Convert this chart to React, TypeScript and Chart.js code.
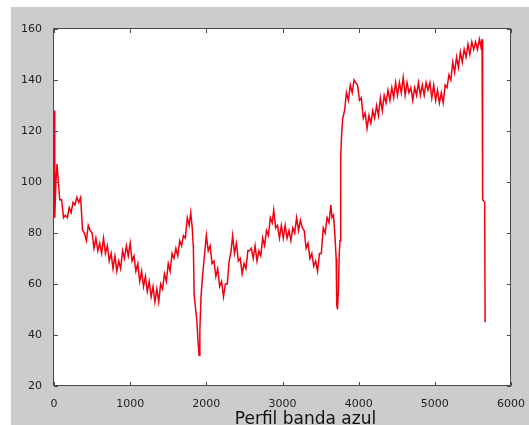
import React, { useEffect, useRef } from 'react';
import { Chart, registerables } from 'chart.js';

Chart.register(...registerables);

// Sample position along the profile (pixels along the line)
const PROFILE_X = [
  0, 10, 25, 40, 55, 75, 100, 125, 150, 175, 200, 225, 250, 275, 300, 325, 350, 375, 400, 425,
  450, 475, 500, 525, 550, 575, 600, 625, 650, 675, 700, 725, 750, 775, 800, 825, 850, 875, 900, 925,
  950, 975, 1000, 1025, 1050, 1075, 1100, 1125, 1150, 1175, 1200, 1225, 1250, 1275, 1300, 1325, 1350, 1375, 1400, 1425,
  1450, 1475, 1500, 1525, 1550, 1575, 1600, 1625, 1650, 1675, 1700, 1725, 1750, 1775, 1795, 1815, 1830, 1840, 1860, 1875,
  1890, 1905, 1915, 1930, 1950, 1975, 2000, 2025, 2050, 2075, 2100, 2125, 2150, 2175, 2200, 2225, 2250, 2275, 2300, 2325,
  2345, 2370, 2395, 2420, 2445, 2470, 2495, 2520, 2545, 2565, 2590, 2615, 2640, 2665, 2690, 2715, 2740, 2765, 2790, 2815,
  2840, 2865, 2885, 2910, 2935, 2960, 2985, 3010, 3035, 3060, 3085, 3110, 3135, 3160, 3185, 3210, 3235, 3260, 3285, 3310,
  3335, 3360, 3385, 3410, 3435, 3460, 3485, 3510, 3535, 3560, 3585, 3610, 3635, 3650, 3670, 3690, 3705, 3712, 3722, 3735,
  3745, 3755, 3765, 3775, 3790, 3815, 3840, 3865, 3890, 3915, 3940, 3960, 3985, 4010, 4035, 4060, 4085, 4110, 4135, 4160,
  4185, 4210, 4235, 4260, 4285, 4310, 4335, 4360, 4385, 4410, 4435, 4460, 4485, 4510, 4535, 4560, 4585, 4610, 4635, 4660,
  4685, 4710, 4735, 4760, 4785, 4810, 4835, 4860, 4885, 4910, 4935, 4960, 4985, 5010, 5035, 5060, 5085, 5110, 5135, 5160,
  5185, 5210, 5235, 5260, 5285, 5310, 5335, 5360, 5385, 5410, 5435, 5460, 5485, 5510, 5535, 5560, 5585, 5605, 5620, 5628,
  5655, 5660,
];

// Blue-band intensity
const PROFILE_Y = [
  128, 86, 100, 107, 101, 93, 93, 86, 87, 86, 90, 88, 92, 91, 94, 92, 94, 81, 80, 77,
  83, 81, 80, 74, 78, 73, 76, 72, 78, 72, 75, 69, 72, 66, 71, 65, 69, 66, 73, 70,
  75, 71, 76, 69, 71, 65, 68, 61, 65, 59, 63, 57, 61, 55, 59, 53, 58, 53, 60, 58,
  64, 61, 68, 65, 72, 70, 74, 71, 77, 75, 79, 78, 86, 83, 88, 82, 74, 56, 50, 46,
  38, 32, 42, 55, 63, 71, 79, 73, 75, 68, 69, 63, 66, 59, 61, 55, 60, 60, 69, 73,
  79, 72, 76, 69, 70, 64, 68, 66, 73, 73, 74, 70, 75, 69, 73, 71, 78, 75, 81, 79,
  86, 84, 89, 82, 83, 78, 83, 78, 83, 78, 81, 77, 82, 80, 86, 81, 85, 82, 81, 74,
  76, 70, 72, 67, 69, 65, 72, 72, 82, 80, 86, 84, 91, 86, 87, 78, 70, 52, 50, 58,
  72, 77, 110, 118, 125, 128, 135, 132, 138, 135, 140, 139, 138, 132, 133, 125, 127, 121, 126, 123,
  128, 125, 130, 126, 133, 128, 134, 131, 136, 132, 137, 133, 139, 134, 139, 135, 141, 134, 139, 135,
  137, 132, 137, 134, 139, 134, 138, 134, 139, 136, 139, 133, 138, 132, 136, 131, 135, 131, 138, 137,
  142, 140, 147, 143, 149, 145, 151, 147, 152, 149, 154, 150, 155, 152, 155, 152, 156, 153, 156, 93,
  92, 45,
];

const X_MIN = 0;
const X_MAX = 6000;
const X_STEP = 1000;
const Y_MIN = 20;
const Y_MAX = 160;
const Y_STEP = 20;
const X_LABEL = 'Perfil banda azul';

const matlabAxes = {
  id: 'matlabAxes',
  beforeDatasetsDraw(chart: any) {
    const { ctx, chartArea } = chart;
    const { left, right, top, bottom } = chartArea;
    ctx.save();
    ctx.fillStyle = '#ffffff';
    ctx.fillRect(left, top, right - left, bottom - top);
    ctx.restore();
  },
  afterDatasetsDraw(chart: any) {
    const { ctx, chartArea } = chart;
    const { left, right, top, bottom } = chartArea;
    const xs = chart.scales.x;
    const ys = chart.scales.y;
    ctx.save();
    ctx.strokeStyle = '#4a4a4a';
    ctx.lineWidth = 1;
    ctx.beginPath();
    ctx.rect(Math.round(left) - 0.5, Math.round(top) - 0.5, Math.round(right - left), Math.round(bottom - top));
    ctx.stroke();
    const len = 4;
    ctx.beginPath();
    xs.ticks.forEach((t: any) => {
      const px = Math.round(xs.getPixelForValue(t.value)) + 0.5;
      ctx.moveTo(px, bottom);
      ctx.lineTo(px, bottom - len);
      ctx.moveTo(px, top);
      ctx.lineTo(px, top + len);
    });
    ys.ticks.forEach((t: any) => {
      const py = Math.round(ys.getPixelForValue(t.value)) + 0.5;
      ctx.moveTo(left, py);
      ctx.lineTo(left + len, py);
      ctx.moveTo(right, py);
      ctx.lineTo(right - len, py);
    });
    ctx.stroke();
    // x-axis label
    ctx.fillStyle = '#111111';
    ctx.font = '17px "DejaVu Sans"';
    ctx.textAlign = 'center';
    ctx.textBaseline = 'alphabetic';
    ctx.fillText(X_LABEL, (left + right) / 2 + 23, chart.height - 1);
    ctx.restore();
  },
};

export default function App() {
  const canvasRef = useRef<HTMLCanvasElement | null>(null);

  useEffect(() => {
    const canvas = canvasRef.current;
    if (!canvas) return;
    const points = PROFILE_X.map((x, i) => ({ x, y: PROFILE_Y[i] }));
    const tickFont = { family: '"DejaVu Sans"', size: 11 };
    const chart = new Chart(canvas, {
      type: 'line',
      data: {
        datasets: [
          {
            data: points,
            borderColor: 'rgb(240, 0, 16)',
            borderWidth: 1.5,
            pointRadius: 0,
            tension: 0,
            fill: false,
          },
        ],
      },
      options: {
        responsive: false,
        animation: false,
        layout: { padding: { top: 22, right: 17, bottom: 0, left: 0 } },
        plugins: {
          legend: { display: false },
          tooltip: { enabled: false },
          title: { display: false },
        },
        scales: {
          x: {
            type: 'linear',
            min: X_MIN,
            max: X_MAX,
            grid: { display: false },
            border: { display: false },
            ticks: {
              stepSize: X_STEP,
              color: '#222222',
              font: tickFont,
              padding: 4,
              maxRotation: 0,
              autoSkip: false,
              callback: (v: any) => String(v),
            },
            afterFit: (scale: any) => {
              scale.height = 39;
            },
          },
          y: {
            type: 'linear',
            min: Y_MIN,
            max: Y_MAX,
            grid: { display: false },
            border: { display: false },
            ticks: {
              stepSize: Y_STEP,
              color: '#222222',
              font: tickFont,
              padding: 4,
              callback: (v: any) => String(v),
            },
            afterFit: (scale: any) => {
              scale.width = 43;
            },
          },
        },
      },
      plugins: [matlabAxes],
    });
    return () => chart.destroy();
  }, []);

  return (
    <div
      style={{
        position: 'absolute',
        left: 11,
        top: 7,
        width: 518,
        height: 418,
        background: '#cccccc',
      }}
    >
      <canvas ref={canvasRef} width={518} height={418} style={{ display: 'block', width: 518, height: 418 }} />
    </div>
  );
}
